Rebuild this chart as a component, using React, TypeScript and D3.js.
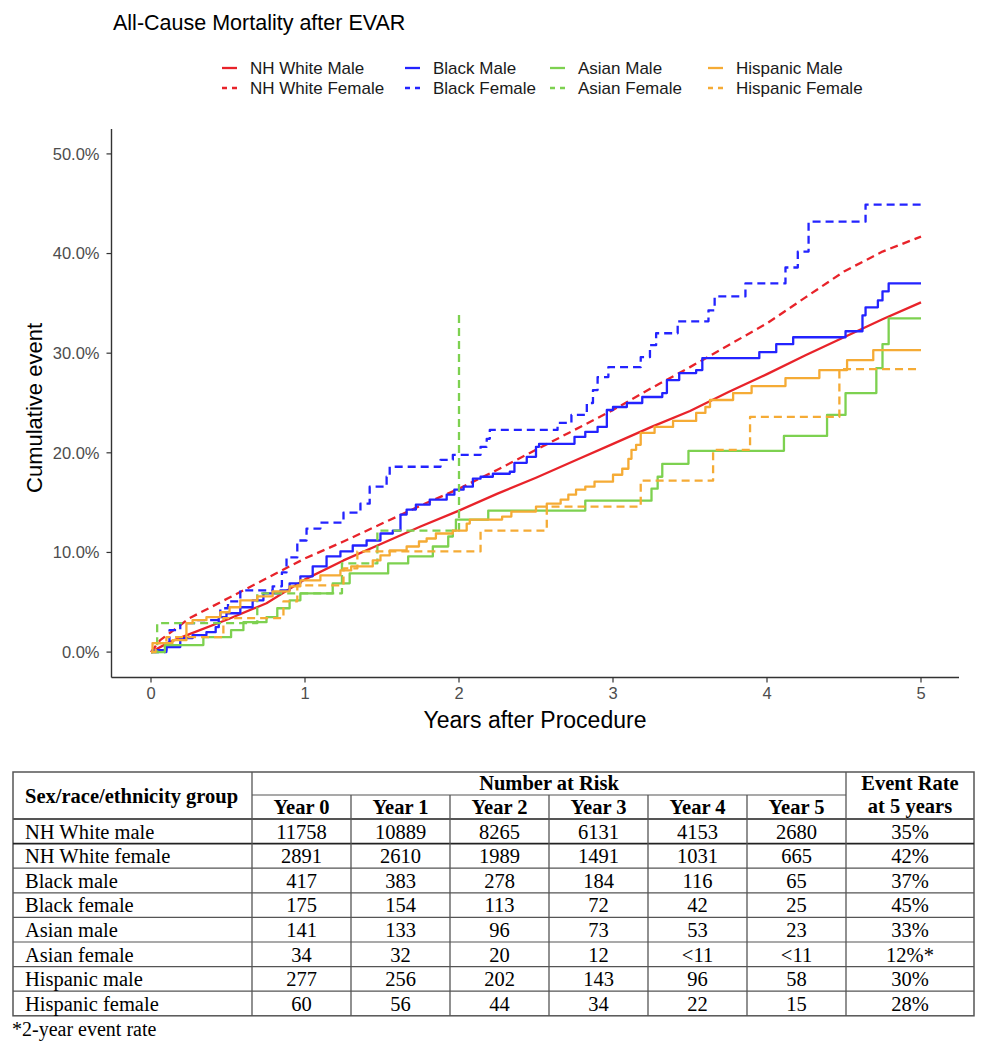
import React from 'react';
import * as d3 from 'd3';

type Pt = [number, number];

const TITLE = 'All-Cause Mortality after EVAR';
const X_LABEL = 'Years after Procedure';
const Y_LABEL = 'Cumulative event';
const X_TICKS = [0, 1, 2, 3, 4, 5];
const Y_TICKS = [0, 10, 20, 30, 40, 50];

const GROUPS = ['NH White Male', 'NH White Female', 'Black Male', 'Black Female', 'Asian Male', 'Asian Female', 'Hispanic Male', 'Hispanic Female'];
const COLORS = ['#e8232a', '#e8232a', '#2323ff', '#2323ff', '#7dd150', '#7dd150', '#f5ab35', '#f5ab35'];
const DASHED = [false, true, false, true, false, true, false, true];
const SMOOTH = [true, true, false, false, false, false, false, false];

// cumulative event (%) by years after procedure
const NHW_MALE: Pt[] = [[0, 0], [0.12, 1.0], [0.25, 1.8], [0.5, 3.3], [0.75, 4.9], [1.0, 7.3], [1.25, 9.2], [1.5, 10.9], [1.75, 12.6], [2.0, 14.2], [2.25, 15.9], [2.5, 17.5], [2.75, 19.2], [3.0, 20.9], [3.25, 22.6], [3.5, 24.2], [3.75, 26.1], [4.0, 27.9], [4.25, 29.8], [4.5, 31.6], [4.75, 33.4], [5.0, 35.1]];
const NHW_FEMALE: Pt[] = [[0, 0], [0.06, 1.2], [0.25, 3.4], [0.5, 5.4], [0.75, 7.4], [1.0, 9.4], [1.25, 11.1], [1.5, 12.9], [1.75, 14.7], [2.0, 16.4], [2.25, 18.3], [2.5, 20.3], [2.75, 22.3], [3.0, 24.3], [3.25, 26.5], [3.5, 28.6], [3.75, 30.8], [4.0, 33.0], [4.25, 35.6], [4.5, 38.2], [4.75, 40.2], [5.0, 41.7]];
const BLACK_MALE: Pt[] = [[0, 0], [0.01, 0.2], [0.1, 0.5], [0.19, 1.4], [0.27, 1.7], [0.36, 2.0], [0.42, 2.5], [0.44, 3.5], [0.49, 3.9], [0.58, 4.5], [0.66, 5.2], [0.73, 5.9], [0.84, 6.2], [0.9, 6.9], [0.97, 7.6], [1.05, 8.6], [1.14, 9.6], [1.23, 10.1], [1.31, 10.7], [1.4, 11.2], [1.49, 11.9], [1.57, 12.2], [1.62, 13.8], [1.66, 14.3], [1.72, 14.8], [1.81, 15.3], [1.92, 15.8], [1.97, 16.3], [2.03, 16.6], [2.09, 17.4], [2.14, 17.6], [2.22, 17.9], [2.33, 18.1], [2.36, 19.0], [2.44, 19.6], [2.5, 20.6], [2.52, 20.9], [2.75, 21.6], [2.82, 22.1], [2.9, 22.6], [2.96, 24.3], [3.0, 24.6], [3.09, 25.0], [3.19, 25.6], [3.32, 26.0], [3.35, 27.3], [3.43, 28.0], [3.54, 28.3], [3.58, 29.5], [3.95, 30.1], [4.06, 30.9], [4.17, 31.6], [4.51, 32.2], [4.62, 33.8], [4.64, 34.6], [4.72, 35.3], [4.75, 36.2], [4.79, 37.0], [5.0, 37.0]];
const BLACK_FEMALE: Pt[] = [[0, 0], [0.1, 0.5], [0.12, 2.2], [0.19, 2.9], [0.3, 3.2], [0.45, 4.4], [0.5, 5.1], [0.58, 6.2], [0.79, 6.6], [0.85, 8.0], [0.88, 9.5], [0.95, 11.2], [1.01, 12.4], [1.1, 13.0], [1.25, 14.0], [1.36, 14.9], [1.42, 16.6], [1.53, 17.6], [1.55, 18.6], [1.88, 19.3], [1.96, 19.8], [2.14, 20.6], [2.18, 21.4], [2.2, 22.3], [2.64, 23.0], [2.73, 23.8], [2.83, 25.0], [2.87, 26.3], [2.9, 27.6], [2.97, 28.6], [3.18, 29.6], [3.24, 30.8], [3.28, 32.0], [3.42, 33.2], [3.62, 34.3], [3.66, 35.7], [3.86, 37.0], [4.12, 38.6], [4.2, 40.2], [4.27, 43.2], [4.64, 44.9], [5.0, 44.9]];
const ASIAN_MALE: Pt[] = [[0, 0], [0.09, 0.7], [0.34, 1.5], [0.52, 2.2], [0.6, 3.0], [0.75, 3.5], [0.82, 4.4], [0.9, 5.2], [0.97, 5.9], [1.18, 6.9], [1.29, 7.9], [1.54, 8.9], [1.67, 9.6], [1.83, 10.6], [1.93, 11.6], [1.96, 12.2], [1.98, 13.3], [2.19, 14.2], [2.82, 15.2], [3.25, 16.4], [3.29, 17.6], [3.32, 18.9], [3.49, 20.2], [4.11, 21.7], [4.39, 23.8], [4.51, 26.0], [4.71, 28.5], [4.75, 30.9], [4.79, 33.5], [5.0, 33.5]];
const ASIAN_FEMALE: Pt[] = [[0, 0], [0.04, 2.9], [0.69, 5.9], [1.24, 8.9], [1.47, 12.2], [2.0, 34.3]];
const HISP_MALE: Pt[] = [[0, 0], [0.01, 0.9], [0.14, 1.2], [0.23, 2.9], [0.27, 3.2], [0.36, 3.5], [0.45, 4.0], [0.51, 4.5], [0.58, 5.2], [0.69, 5.6], [0.79, 6.1], [0.9, 6.6], [0.97, 7.2], [1.1, 7.7], [1.23, 8.2], [1.3, 8.6], [1.44, 9.2], [1.49, 9.7], [1.55, 10.2], [1.66, 10.6], [1.74, 11.1], [1.79, 11.4], [1.85, 11.9], [1.96, 12.2], [2.05, 12.9], [2.07, 13.3], [2.28, 13.6], [2.34, 14.1], [2.5, 14.6], [2.57, 14.9], [2.66, 15.3], [2.71, 15.8], [2.76, 16.3], [2.82, 16.6], [2.88, 17.1], [3.0, 17.8], [3.06, 18.4], [3.1, 19.4], [3.12, 20.3], [3.15, 20.8], [3.18, 22.0], [3.27, 22.6], [3.39, 23.2], [3.54, 24.0], [3.6, 24.6], [3.63, 25.3], [3.78, 26.0], [3.9, 26.7], [4.12, 27.5], [4.34, 28.3], [4.52, 29.3], [4.69, 30.3], [5.0, 30.3]];
const HISP_FEMALE: Pt[] = [[0, 0], [0.03, 0.9], [0.1, 1.5], [0.47, 3.4], [0.86, 5.1], [0.95, 6.7], [1.25, 8.4], [1.34, 10.1], [2.14, 12.2], [2.57, 14.6], [3.18, 17.2], [3.65, 20.3], [3.89, 23.6], [4.47, 28.4], [5.0, 28.4]];

const SERIES = [NHW_MALE, NHW_FEMALE, BLACK_MALE, BLACK_FEMALE, ASIAN_MALE, ASIAN_FEMALE, HISP_MALE, HISP_FEMALE];

// legend layout (column order follows ggplot byrow legend)
const LEGEND_COLS = [[0, 1], [2, 3], [4, 5], [6, 7]];
const LEGEND_TEXT_X = [250, 433, 578, 736];

// table
const TABLE_HEAD = 'Sex/race/ethnicity group';
const TABLE_SPAN = 'Number at Risk';
const TABLE_YEARS = ['Year 0', 'Year 1', 'Year 2', 'Year 3', 'Year 4', 'Year 5'];
const TABLE_RATE_HEAD = ['Event Rate', 'at 5 years'];
const TABLE_GROUPS = ['NH White male', 'NH White female', 'Black male', 'Black female', 'Asian male', 'Asian female', 'Hispanic male', 'Hispanic female'];
const RISK_NHW_MALE = ['11758', '10889', '8265', '6131', '4153', '2680'];
const RISK_NHW_FEMALE = ['2891', '2610', '1989', '1491', '1031', '665'];
const RISK_BLACK_MALE = ['417', '383', '278', '184', '116', '65'];
const RISK_BLACK_FEMALE = ['175', '154', '113', '72', '42', '25'];
const RISK_ASIAN_MALE = ['141', '133', '96', '73', '53', '23'];
const RISK_ASIAN_FEMALE = ['34', '32', '20', '12', '<11', '<11'];
const RISK_HISP_MALE = ['277', '256', '202', '143', '96', '58'];
const RISK_HISP_FEMALE = ['60', '56', '44', '34', '22', '15'];
const AT_RISK = [RISK_NHW_MALE, RISK_NHW_FEMALE, RISK_BLACK_MALE, RISK_BLACK_FEMALE, RISK_ASIAN_MALE, RISK_ASIAN_FEMALE, RISK_HISP_MALE, RISK_HISP_FEMALE];
const EVENT_RATE = ['35%', '42%', '37%', '45%', '33%', '12%*', '30%', '28%'];
const FOOTNOTE = '*2-year event rate';

const SANS = '"Liberation Sans", Arial, sans-serif';
const SERIF = '"Liberation Serif", "Times New Roman", serif';

export default function App() {
  const x = d3.scaleLinear().domain([-0.25, 5.25]).range([112.5, 959.5]);
  const y = d3.scaleLinear().domain([-2.5, 52.5]).range([677, 129]);
  const stepLine = d3.line<Pt>().x(d => x(d[0])).y(d => y(d[1])).curve(d3.curveStepAfter);
  const smoothLine = d3.line<Pt>().x(d => x(d[0])).y(d => y(d[1])).curve(d3.curveLinear);

  const axisColor = '#333';
  const tickColor = '#4d4d4d';
  const left = 111.5, bottom = 677.5, top = 129, right = 959;

  // table geometry
  const colX = [13, 252, 351, 450, 549, 648, 747, 846, 974];
  const tTop = 772, tMid = 795, tHeadBottom = 819, rowH = 24.6;
  const rowY = TABLE_GROUPS.map((_, i) => tHeadBottom + i * rowH);
  const tBottom = tHeadBottom + TABLE_GROUPS.length * rowH;
  const lineColor = '#555';

  return (
    <svg width={987} height={1050} style={{ position: 'absolute', left: 0, top: 0, background: '#fff' }}>
      <rect x={0} y={0} width={987} height={1050} fill="#fff" />
      <text x={113} y={30} fontFamily={SANS} fontSize={21.5} fill="#000">{TITLE}</text>

      {/* legend */}
      {LEGEND_COLS.map((col, ci) => col.map((gi, ri) => {
        const ty = 74 + ri * 20;
        const tx = LEGEND_TEXT_X[ci];
        return (
          <g key={gi}>
            <line x1={tx - 28} x2={tx - 13} y1={ty - 6} y2={ty - 6} stroke={COLORS[gi]} strokeWidth={2.3} strokeDasharray={DASHED[gi] ? '5 5' : undefined} />
            <text x={tx} y={ty} fontFamily={SANS} fontSize={17} fill="#1a1a1a">{GROUPS[gi]}</text>
          </g>
        );
      }))}

      {/* axes */}
      <line x1={left} x2={left} y1={top} y2={bottom} stroke={axisColor} strokeWidth={1.4} />
      <line x1={left} x2={right} y1={bottom} y2={bottom} stroke={axisColor} strokeWidth={1.4} />
      {Y_TICKS.map(t => (
        <g key={'y' + t}>
          <line x1={left - 5} x2={left} y1={y(t)} y2={y(t)} stroke={axisColor} strokeWidth={1.2} />
          <text x={left - 12} y={y(t)} dy="0.36em" textAnchor="end" fontFamily={SANS} fontSize={16.5} fill={tickColor}>{t.toFixed(1) + '%'}</text>
        </g>
      ))}
      {X_TICKS.map(t => (
        <g key={'x' + t}>
          <line x1={x(t)} x2={x(t)} y1={bottom} y2={bottom + 5} stroke={axisColor} strokeWidth={1.2} />
          <text x={x(t)} y={bottom + 21} textAnchor="middle" fontFamily={SANS} fontSize={16.5} fill={tickColor}>{t}</text>
        </g>
      ))}
      <text x={535} y={728} textAnchor="middle" fontFamily={SANS} fontSize={23} fill="#000">{X_LABEL}</text>
      <text transform={`translate(42,408) rotate(-90)`} textAnchor="middle" fontFamily={SANS} fontSize={22} fill="#000">{Y_LABEL}</text>

      {/* curves */}
      {SERIES.map((s, i) => (
        <path key={'s' + i} d={(SMOOTH[i] ? smoothLine : stepLine)(s) || ''} fill="none" stroke={COLORS[i]} strokeWidth={2.3}
          strokeDasharray={DASHED[i] ? '8 5' : undefined} strokeLinejoin="round" />
      ))}

      {/* table */}
      <g fontFamily={SERIF} fill="#000">
        <rect x={colX[0]} y={tTop} width={colX[8] - colX[0]} height={tBottom - tTop} fill="none" stroke={lineColor} strokeWidth={1.5} />
        <line x1={colX[1]} x2={colX[7]} y1={tMid} y2={tMid} stroke={lineColor} strokeWidth={1.2} />
        <line x1={colX[0]} x2={colX[8]} y1={tHeadBottom} y2={tHeadBottom} stroke={lineColor} strokeWidth={2} />
        {rowY.slice(1).map((ry, i) => (
          <line key={'r' + i} x1={colX[0]} x2={colX[8]} y1={ry} y2={ry} stroke={i === 0 ? '#222' : lineColor} strokeWidth={i === 0 ? 1.8 : 1.2} />
        ))}
        {colX.slice(1, 8).map((cx, i) => (
          <line key={'c' + i} x1={cx} x2={cx} y1={i === 0 || i === 6 ? tTop : tMid} y2={tBottom} stroke={lineColor} strokeWidth={1.3} />
        ))}
        <text x={25} y={803} fontSize={20.5} fontWeight="bold">{TABLE_HEAD}</text>
        <text x={(colX[1] + colX[7]) / 2} y={790} textAnchor="middle" fontSize={20.5} fontWeight="bold">{TABLE_SPAN}</text>
        {TABLE_YEARS.map((yr, i) => (
          <text key={yr} x={(colX[i + 1] + colX[i + 2]) / 2} y={814} textAnchor="middle" fontSize={20.5} fontWeight="bold">{yr}</text>
        ))}
        <text x={(colX[7] + colX[8]) / 2} y={790} textAnchor="middle" fontSize={20.5} fontWeight="bold">{TABLE_RATE_HEAD[0]}</text>
        <text x={(colX[7] + colX[8]) / 2} y={813} textAnchor="middle" fontSize={20.5} fontWeight="bold">{TABLE_RATE_HEAD[1]}</text>
        {TABLE_GROUPS.map((g, i) => (
          <g key={g}>
            <text x={25} y={rowY[i] + 19.5} fontSize={20.5}>{g}</text>
            {AT_RISK[i].map((v, j) => (
              <text key={j} x={(colX[j + 1] + colX[j + 2]) / 2} y={rowY[i] + 19.5} textAnchor="middle" fontSize={20.5}>{v}</text>
            ))}
            <text x={(colX[7] + colX[8]) / 2} y={rowY[i] + 19.5} textAnchor="middle" fontSize={20.5}>{EVENT_RATE[i]}</text>
          </g>
        ))}
        <text x={12} y={1036} fontSize={20}>{FOOTNOTE}</text>
      </g>
    </svg>
  );
}
